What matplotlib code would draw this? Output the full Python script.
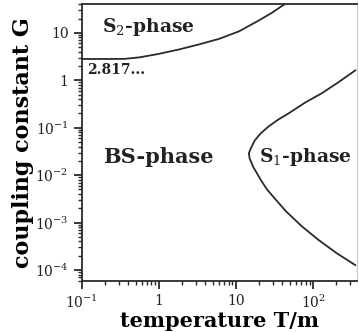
import matplotlib
matplotlib.use("Agg")
import matplotlib.pyplot as plt

# S2 phase boundary (upper curve), starts flat at G = 2.817...
s2_T = [0.1, 0.23, 0.36, 0.56, 1.0, 1.84, 3.33, 6.03, 10.9, 19.8, 29.1, 44.2]
s2_G = [2.817, 2.817, 2.835, 3.05, 3.61, 4.49, 5.73, 7.48, 10.75, 18.3, 26.4, 41.8]

# S1 phase boundary (nose shaped curve on the right), from bottom to top
s1_T = [353, 201, 118, 71.1, 44.2, 30.5, 25.1, 21.0, 18.7, 16.8, 15.0, 14.7,
        15.6, 17.6, 21.0, 26.7, 35.9, 48.0, 80, 129, 213, 353]
s1_G = [1.27e-4, 2.28e-4, 4.3e-4, 8.4e-4, 1.75e-3, 3.5e-3, 5.07e-3, 7.9e-3, 1.1e-2, 1.47e-2, 2.28e-2, 2.9e-2,
        3.7e-2, 5.46e-2, 7.66e-2, 0.1075, 0.151, 0.20, 0.344, 0.53, 0.908, 1.62]

xticks = [0.1, 1, 10, 100]
xticklabels = ["10$^{-1}$", "1", "10", "10$^{2}$"]
yticks = [1e-4, 1e-3, 1e-2, 1e-1, 1, 10]
yticklabels = ["10$^{-4}$", "10$^{-3}$", "10$^{-2}$", "10$^{-1}$", "1", "10"]

plt.rcParams['font.family'] = 'DejaVu Serif'
plt.rcParams['mathtext.fontset'] = 'dejavuserif'

fig = plt.figure(figsize=(3.59, 3.32), dpi=100)
ax = fig.add_axes([0.228, 0.154, 0.766, 0.834])

lc = '#2a2a2a'
ax.plot(s2_T, s2_G, color=lc, lw=1.3)
ax.plot(s1_T, s1_G, color=lc, lw=1.3)

ax.set_xscale('log')
ax.set_yscale('log')
ax.set_xlim(0.1, 370)
ax.set_ylim(5.9e-5, 40.7)

ax.set_xticks(xticks)
ax.set_xticklabels(xticklabels, fontsize=10)
ax.set_yticks(yticks)
ax.set_yticklabels(yticklabels, fontsize=10)
ax.tick_params(which='major', direction='out', length=6, width=1.3, color=lc, labelcolor='#222222')
ax.tick_params(which='minor', direction='out', length=3, width=1.0, color=lc)

for s in ['left', 'bottom', 'top']:
    ax.spines[s].set_linewidth(1.3)
    ax.spines[s].set_color(lc)
ax.spines['right'].set_color('#cccccc')
ax.spines['right'].set_linewidth(0.8)

ax.text(0.18, 13, "S$_2$-phase", fontsize=13.5, fontweight='bold', va='center', color='#222222')
ax.text(0.116, 1.62, "2.817...", fontsize=10, fontweight='bold', va='center', color='#222222')
ax.text(0.186, 0.024, "BS-phase", fontsize=15, fontweight='bold', va='center', color='#222222')
ax.text(19.8, 0.024, "S$_1$-phase", fontsize=13.5, fontweight='bold', va='center', color='#222222')

ax.set_xlabel("temperature T/m", fontsize=15, fontweight='bold', labelpad=0)
ax.set_ylabel("coupling constant G", fontsize=16, fontweight='bold', labelpad=1)

fig.savefig("out.png", dpi=100)
